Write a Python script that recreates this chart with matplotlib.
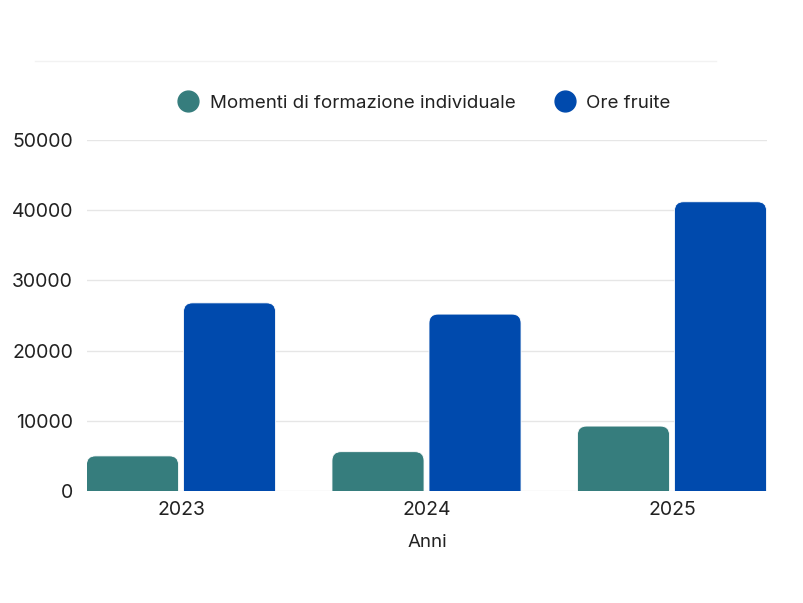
import matplotlib
matplotlib.use("Agg")
import matplotlib.pyplot as plt
from matplotlib.patches import FancyBboxPatch
from matplotlib.lines import Line2D
import numpy as np

plt.rcParams['font.family'] = ['Inter', 'DejaVu Sans']

years = ['2023', '2024', '2025']
momenti = [5000, 5600, 9250]
ore = [26800, 25200, 41200]
series_names = ['Momenti di formazione individuale', 'Ore fruite']
colors = ['#367d7d', '#004aad']
yticks = [0, 10000, 20000, 30000, 40000, 50000]

W, H = 804, 603
fig = plt.figure(figsize=(W / 100, H / 100), dpi=100)
left, right, top, bottom = 87, 767, 140, 491
ax = fig.add_axes([left / W, 1 - bottom / H, (right - left) / W, (bottom - top) / H])

xlim = (-0.383, 2.387)
ylim = (0, 50000)
ax.set_xlim(*xlim)
ax.set_ylim(*ylim)

# pixels per data unit, used to keep the corner rounding circular
px_x = (right - left) / (xlim[1] - xlim[0])
px_y = (bottom - top) / (ylim[1] - ylim[0])
r_px = 9
rx = r_px / px_x
aspect = (r_px / px_y) / rx

bw = 0.375
off = 0.1976
x = np.arange(len(years))
for vals, color, d in [(momenti, colors[0], -off), (ore, colors[1], off)]:
    for xi, v in zip(x, vals):
        y0 = -3000
        p = FancyBboxPatch((xi + d - bw / 2, y0), bw, v - y0,
                           boxstyle=f"round,pad=0,rounding_size={rx}",
                           mutation_aspect=aspect, facecolor=color,
                           edgecolor='white', linewidth=0.6, zorder=3)
        ax.add_patch(p)

ax.set_yticks(yticks)
ax.set_yticklabels([str(t) for t in yticks])
ax.set_xticks(x)
ax.set_xticklabels(years)
ax.grid(axis='y', color='#e6e6e6', linewidth=1, zorder=0)
ax.set_axisbelow(True)
for s in ax.spines.values():
    s.set_visible(False)
ax.tick_params(axis='both', length=0, labelsize=14, labelcolor='#222222')
ax.tick_params(axis='y', pad=10)
ax.tick_params(axis='x', pad=7)
ax.set_xlabel('Anni', fontsize=13.5, color='#222222', labelpad=11)

# faint line at the top of the card
fig.add_artist(Line2D([35 / W, 716 / W], [1 - 61 / H, 1 - 61 / H],
                      color='#f2f2f2', linewidth=1))

handles = [Line2D([], [], marker='o', linestyle='none', markersize=15,
                  markerfacecolor=c, markeredgecolor=c) for c in colors]
fig.legend(handles, series_names, loc='center', bbox_to_anchor=(420 / W, 1 - 103 / H),
           ncol=2, frameon=False, fontsize=13.5, handletextpad=0.15,
           columnspacing=1.63, labelcolor='#222222')

fig.savefig('out.png', dpi=100)
